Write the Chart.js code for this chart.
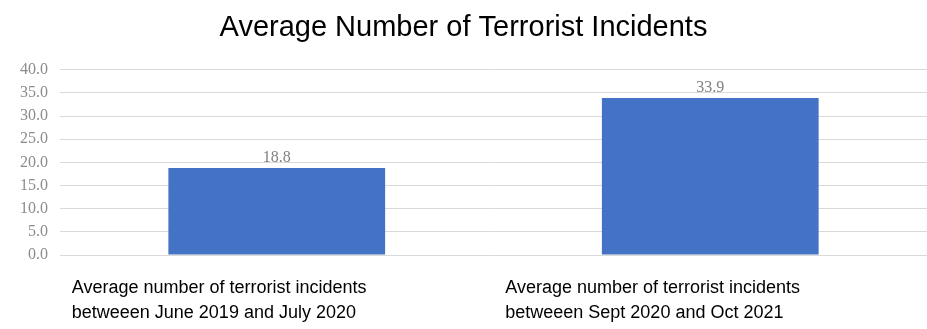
<!DOCTYPE html>
<html>
<head>
<meta charset="utf-8">
<title>Average Number of Terrorist Incidents</title>
<script src="https://cdn.jsdelivr.net/npm/chart.js@4"></script>
<style>
    html, body { margin: 0; padding: 0; background: #fff; }
    #wrap { width: 927px; height: 329px; position: relative; }
</style>
</head>
<body>
<div id="wrap"><canvas id="incidentsChart"></canvas></div>
<script>
// Chart data
const categories = [
    ['Average number of terrorist incidents', 'betweeen June 2019 and July 2020'],
    ['Average number of terrorist incidents', 'betweeen Sept 2020 and Oct 2021']
];
const averageIncidents = [18.8, 33.9];
const yTicks = [0, 5, 10, 15, 20, 25, 30, 35, 40];

// Value labels above the bars
const barValueLabels = {
    id: 'barValueLabels',
    afterDatasetsDraw(chart) {
        const { ctx } = chart;
        const meta = chart.getDatasetMeta(0);
        ctx.save();
        ctx.font = '16px "Liberation Serif", serif';
        ctx.fillStyle = '#808080';
        ctx.textAlign = 'center';
        ctx.textBaseline = 'bottom';
        meta.data.forEach((bar, i) => {
            ctx.fillText(averageIncidents[i].toFixed(1), bar.x, bar.y - 2);
        });
        ctx.restore();
    }
};

const ctx = document.getElementById('incidentsChart').getContext('2d');
const incidentsChart = new Chart(ctx, {
    type: 'bar',
    data: {
        labels: categories,
        datasets: [{
            data: averageIncidents,
            backgroundColor: '#4472c4',
            borderWidth: 0,
            barPercentage: 0.5,
            categoryPercentage: 1
        }]
    },
    options: {
        responsive: true,
        maintainAspectRatio: false,
        animation: false,
        layout: { padding: 0 },
        plugins: {
            legend: { display: false },
            tooltip: { enabled: false },
            title: {
                display: true,
                text: 'Average Number of Terrorist Incidents',
                color: '#000',
                font: { family: '"Liberation Sans", Arial, sans-serif', size: 29, weight: 'normal' },
                padding: { top: 11, bottom: 24 }
            }
        },
        scales: {
            x: {
                grid: { display: false, drawTicks: false },
                border: { display: false },
                afterFit(scale) {
                    // labels hang off to the left, keep the plot full width
                    scale.height = 74;
                    scale.paddingLeft = 0;
                    scale.paddingRight = 0;
                },
                ticks: {
                    color: '#000',
                    font: { family: '"Liberation Sans", Arial, sans-serif', size: 18, lineHeight: 1.4 },
                    align: 'start',
                    labelOffset: -205,
                    padding: 20,
                    maxRotation: 0,
                    autoSkip: false
                }
            },
            y: {
                min: 0,
                max: 40,
                afterBuildTicks(scale) {
                    scale.ticks = yTicks.map(v => ({ value: v }));
                },
                afterFit(scale) {
                    scale.width = 60;
                },
                grid: { color: '#d9d9d9', lineWidth: 1, drawTicks: false },
                border: { display: false },
                ticks: {
                    color: '#8c8c8c',
                    font: { family: '"Liberation Serif", serif', size: 16, lineHeight: 1 },
                    padding: 12,
                    autoSkip: false,
                    callback: v => v.toFixed(1)
                }
            }
        }
    },
    plugins: [barValueLabels]
});
</script>
</body>
</html>
